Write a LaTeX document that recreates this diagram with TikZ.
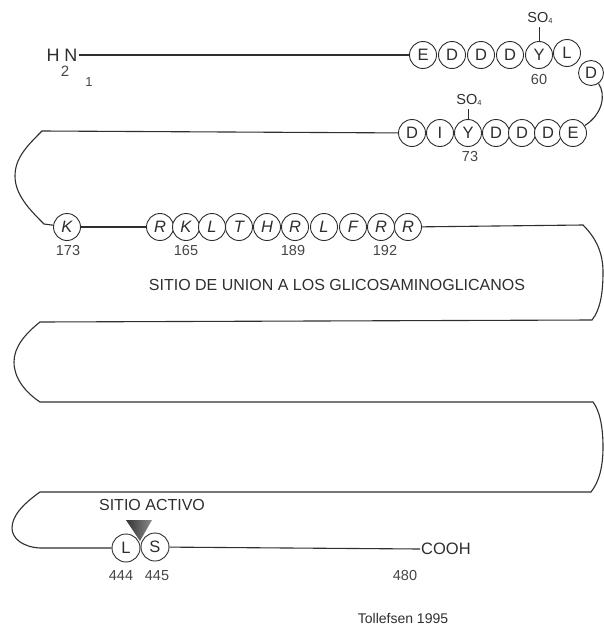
\documentclass[tikz,border=0pt]{standalone}
\usepackage{fontspec}
\setmainfont{Liberation Sans}
\definecolor{ink}{HTML}{2E2E2E}
\definecolor{numgray}{HTML}{454545}
\begin{document}
\begin{tikzpicture}[x=1pt,y=-1pt,
  res/.style={circle, draw=ink, line width=0.9pt, fill=white, inner sep=0pt,
    minimum size=27pt, text=ink, font=\fontsize{16.5}{16.5}\selectfont},
  resi/.style={res, font=\fontsize{16.5}{16.5}\selectfont\itshape},
  num/.style={text=numgray, inner sep=0pt, font=\fontsize{14.5}{14.5}\selectfont},
  lbl/.style={text=ink, inner sep=0pt, font=\fontsize{16}{16}\selectfont},
  sox/.style={text=ink, inner sep=0pt, font=\fontsize{14.5}{14.5}\selectfont},
  chain/.style={draw=ink, line width=1.1pt},
  sulf/.style={draw=ink, line width=0.8pt}]
\useasboundingbox (0,0) rectangle (604,629);

% N-terminus
\node[text=ink, inner sep=1pt, font=\fontsize{18}{18}\selectfont] (hn) at (62,55) {H N};
\node[num, font=\fontsize{15}{15}\selectfont] (sub2) at (65,71) {2};
\node[num, font=\fontsize{13}{13}\selectfont] (pos1) at (89,82) {1};

% acidic stretch with sulfated tyrosine 60
\node[res] (e1)  at (423,55) {E};
\node[res] (d1a) at (452,55) {D};
\node[res] (d1b) at (481,55) {D};
\node[res] (d1c) at (510,55) {D};
\node[res] (y60) at (539,55) {Y};
\node[res] (l1)  at (567,53) {L};
\node[res, minimum size=25pt] (d1d) at (591,73) {D};
\node[num] (n60) at (539,80) {60};
\node[sox] (so60) at (540,18) {SO\raisebox{-1.5pt}{\fontsize{7.5}{7.5}\selectfont 4}};
\draw[sulf] (so60.south -| y60) ++(0,3) -- (y60);

% acidic stretch with sulfated tyrosine 73
\node[res] (d2a) at (412,133) {D};
\node[res] (i2)  at (440,133) {I};
\node[res] (y73) at (468,133) {Y};
\node[res] (d2b) at (496,133) {D};
\node[res] (d2c) at (522,133) {D};
\node[res] (d2d) at (548,133) {D};
\node[res] (e2)  at (573,133) {E};
\node[num] (n73) at (470,157) {73};
\node[sox] (so73) at (469,100) {SO\raisebox{-1.5pt}{\fontsize{7.5}{7.5}\selectfont 4}};
\draw[sulf] (so73.south -| y73) ++(0,3) -- (y73);

% glycosaminoglycan binding site
\node[resi] (k173) at (67,227) {K};
\node[resi] (r3a) at (160,227) {R};
\node[resi] (k165) at (186,227) {K};
\node[resi] (l3a) at (212,227) {L};
\node[resi] (t3)  at (239,227) {T};
\node[resi] (h3)  at (267,227) {H};
\node[resi] (r189) at (295,227) {R};
\node[resi] (l3b) at (324,227) {L};
\node[resi] (f3)  at (353,227) {F};
\node[resi] (r192) at (381,227) {R};
\node[resi] (r3b) at (408,227) {R};
\node[num] (n173) at (68,251) {173};
\node[num] (n165) at (186,251) {165};
\node[num] (n189) at (293,251) {189};
\node[num] (n192) at (385,251) {192};
\node[lbl] (gag) at (337,285) {SITIO DE UNION A LOS GLICOSAMINOGLICANOS};

% active site and C-terminus
\node[res, minimum size=28pt] (l444) at (126,548) {L};
\node[res, minimum size=28pt] (s445) at (155,547) {S};
\node[num] (n444) at (121,576) {444};
\node[num] (n445) at (157,576) {445};
\node[lbl] (act) at (152,505) {SITIO ACTIVO};
\node[text=ink, inner sep=1pt, font=\fontsize{16.5}{16.5}\selectfont, anchor=west] (cooh) at (420,549) {COOH};
\node[num] (n480) at (405,576) {480};
\node[text=ink, inner sep=0pt, font=\fontsize{14}{14}\selectfont] (ref) at (403,618) {Tollefsen 1995};

% polypeptide backbone
\draw[chain] (hn.east) -- (e1);
\draw[chain] (d1d) .. controls (606,94) and (603,114) .. (e2);
\draw[chain] (d2a) -- (42,131) .. controls (27,146) and (15,158) .. (15,176)
  .. controls (15,195) and (30,210) .. (44,224) -- (k173);
\draw[chain] (k173) -- (r3a);
\draw[chain] (r3b) -- (583,225) .. controls (597,239) and (603,254) .. (603,272)
  .. controls (603,294) and (600,310) .. (592,320)
  -- (40,322) .. controls (25,334) and (14,347) .. (14,362)
  .. controls (14,378) and (25,392) .. (40,402)
  -- (593,402) .. controls (600,411) and (603,428) .. (603,447)
  .. controls (603,467) and (599,482) .. (591,492)
  -- (40,492) .. controls (23,504) and (12,516) .. (12,528)
  .. controls (12,538) and (22,547) .. (40,548) -- (l444);
\draw[chain] (s445) -- (cooh.west);

% cleavage marker between L444 and S445
\shade[left color=black!80, right color=black!45] (126,520) -- (152,520) -- (140,541) -- cycle;
\end{tikzpicture}
\end{document}
